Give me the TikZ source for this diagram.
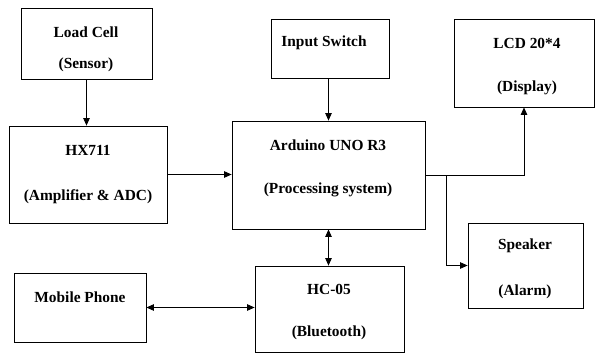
\documentclass[tikz,border=0pt]{standalone}
\usepackage{fontspec}
\setmainfont{Liberation Serif}
\usetikzlibrary{arrows.meta,calc}
\tikzstyle{blockbox} = [
    draw=black,
    line width=0.8pt,
    rectangle,
    inner sep=0pt
    ]
\tikzstyle{blocktext} = [
    font=\fontsize{15.4}{17}\selectfont\bfseries,
    inner sep=0pt
    ]
\tikzstyle{link} = [line width=0.8pt, -{Triangle[length=7.5pt,width=6.5pt]}]
\tikzstyle{duplex} = [line width=0.8pt, {Triangle[length=7.5pt,width=6.5pt]}-{Triangle[length=7.5pt,width=6.5pt]}]

\begin{document}
\begin{tikzpicture}[x=1pt,y=-1pt]
\useasboundingbox (0,0) rectangle (595,354);
% blocks
\node [blockbox, minimum width=131, minimum height=71] (load) at (86.5,43.5) {};
\node [blockbox, minimum width=158, minimum height=97] (hx) at (88,174.5) {};
\node [blockbox, minimum width=118, minimum height=59] (sw) at (330,48.5) {};
\node [blockbox, minimum width=193, minimum height=108] (ard) at (328.5,175) {};
\node [blockbox, minimum width=140, minimum height=88] (lcd) at (524,63) {};
\node [blockbox, minimum width=115, minimum height=85] (spk) at (525.5,265.5) {};
\node [blockbox, minimum width=132, minimum height=69] (mob) at (80,307.5) {};
\node [blockbox, minimum width=149, minimum height=86] (hc) at (329.5,309) {};
% labels
\node [blocktext] (loadname) at (86,32) {Load Cell};
\node [blocktext] (loadrole) at (86,65) {(Sensor)};
\node [blocktext] (hxname) at (88,150) {HX711};
\node [blocktext] (hxrole) at (88,197) {(Amplifier \& ADC)};
\node [blocktext] (swname) at (324,43) {Input Switch};
\node [blocktext] (ardname) at (328,145) {Arduino UNO R3};
\node [blocktext] (ardrole) at (328,190) {(Processing system)};
\node [blocktext] (lcdname) at (527,43) {LCD 20*4};
\node [blocktext] (lcdrole) at (527,88) {(Display)};
\node [blocktext] (spkname) at (525,246) {Speaker};
\node [blocktext] (spkrole) at (525,292) {(Alarm)};
\node [blocktext] (mobname) at (80,297) {Mobile Phone};
\node [blocktext] (hcname) at (329,289) {HC-05};
\node [blocktext] (hcrole) at (329,333) {(Bluetooth)};
% connectors
\coordinate (split) at (446,175);
\draw [link] (load.south) -- (load.south |- hx.north);
\draw [link] (hx.east) -- (hx.east -| ard.west);
\draw [link] (sw.south) -- (sw.south -| ard.north) -- (ard.north);
\draw [link] (ard.east |- split) -| (lcd.south);
\draw [link] (split) |- (spk.west);
\draw [duplex] (ard.south) -- (ard.south |- hc.north);
\draw [duplex] (mob.east) -- (mob.east -| hc.west);
\end{tikzpicture}
\end{document}
